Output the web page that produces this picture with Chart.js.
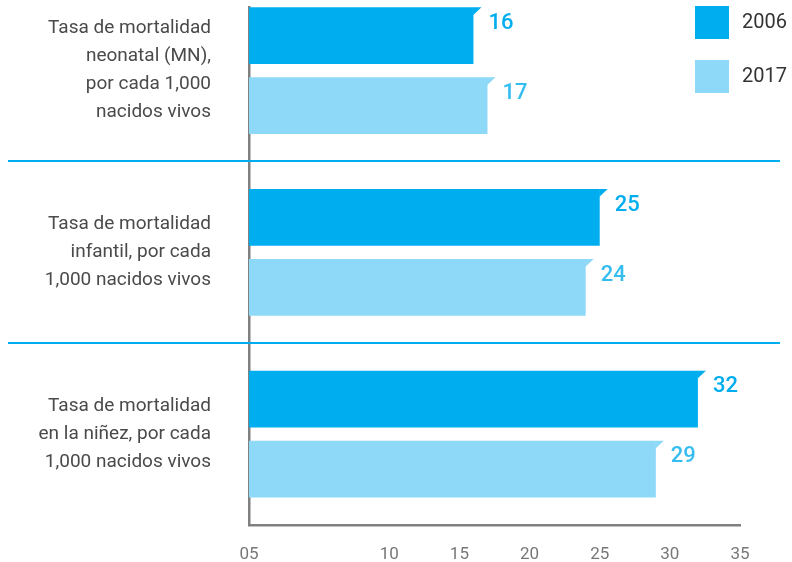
<!DOCTYPE html>
<html>
<head>
<meta charset="utf-8">
<script src="https://cdn.jsdelivr.net/npm/chart.js@4"></script>
<style>
  html, body { margin: 0; padding: 0; background: #fff; }
  #wrap { width: 792px; height: 562px; position: relative; }
</style>
</head>
<body>
<div id="wrap"><canvas id="chart"></canvas></div>
<script>
const categories = [
  ['Tasa de mortalidad', 'neonatal (MN),', 'por cada 1,000', 'nacidos vivos'],
  ['Tasa de mortalidad', 'infantil, por cada', '1,000 nacidos vivos'],
  ['Tasa de mortalidad', 'en la niñez, por cada', '1,000 nacidos vivos']
];
const seriesNames = ['2006', '2017'];
const values2006 = [16, 25, 32];
const values2017 = [17, 24, 29];
const xTickValues = [0, 10, 15, 20, 25, 30, 35];
const xTickLabels = ['05', '10', '15', '20', '25', '30', '35'];

const FONT = 'Roboto, "Noto Sans", sans-serif';
const dark = '#00AEEF';
const light = '#8ED8F8';
const labelColors = ['#00AEEF', '#35BDF0'];
const axisGray = '#808080';

// separators, bar flags, value labels and legend
const extras = {
  id: 'extras',
  afterDatasetsDraw(chart) {
    const ctx = chart.ctx;
    const y = chart.scales.y;
    ctx.save();
    // blue separators between the groups
    ctx.strokeStyle = dark;
    ctx.lineWidth = 2;
    for (let i = 0; i < categories.length - 1; i++) {
      const py = Math.round(y.getPixelForValue(i + 0.5));
      ctx.beginPath();
      ctx.moveTo(8, py);
      ctx.lineTo(780, py);
      ctx.stroke();
    }
    // little flag on each bar end + value
    chart.data.datasets.forEach((ds, di) => {
      const meta = chart.getDatasetMeta(di);
      meta.data.forEach((bar, i) => {
        const top = bar.y - bar.height / 2;
        ctx.fillStyle = ds.backgroundColor;
        ctx.beginPath();
        ctx.moveTo(bar.x - 0.5, top);
        ctx.lineTo(bar.x + 8, top);
        ctx.lineTo(bar.x - 0.5, top + 8);
        ctx.closePath();
        ctx.fill();
        ctx.fillStyle = labelColors[di];
        ctx.font = '500 22px ' + FONT;
        ctx.textAlign = 'left';
        ctx.textBaseline = 'middle';
        ctx.fillText(String(ds.data[i].x), bar.x + 15, top + 16);
      });
    });
    // legend
    const lx = chart.chartArea.right - 45;
    chart.data.datasets.forEach((ds, di) => {
      const ly = 6 + di * 54;
      ctx.fillStyle = ds.backgroundColor;
      ctx.fillRect(lx, ly, 34, 33);
      ctx.fillStyle = '#333';
      ctx.font = '20px ' + FONT;
      ctx.textAlign = 'left';
      ctx.textBaseline = 'middle';
      ctx.fillText(ds.label, lx + 47, ly + 17);
    });
    ctx.restore();
  }
};

new Chart(document.getElementById('chart'), {
  type: 'bar',
  data: {
    datasets: [
      {
        label: seriesNames[0],
        data: values2006.map((v, i) => ({ x: v, y: i })),
        backgroundColor: dark
      },
      {
        label: seriesNames[1],
        data: values2017.map((v, i) => ({ x: v, y: i })),
        backgroundColor: light
      }
    ]
  },
  options: {
    indexAxis: 'y',
    responsive: true,
    maintainAspectRatio: false,
    animation: false,
    categoryPercentage: 0.77,
    barPercentage: 0.81,
    layout: { padding: { top: 7, right: 52, left: 0, bottom: 0 } },
    scales: {
      y: {
        type: 'linear',
        reverse: true,
        offset: false,
        min: -0.35,
        max: 2.5,
        grid: { display: false, offset: false },
        border: { display: true, color: axisGray, width: 2.5 },
        afterBuildTicks: (scale) => {
          scale.ticks = categories.map((c, i) => ({ value: i }));
        },
        afterFit: (scale) => {
          scale.width = 249;
          scale.paddingTop = 0;
          scale.paddingBottom = 0;
        },
        ticks: {
          padding: 30,
          color: '#4a4a4a',
          font: { family: FONT, size: 19, lineHeight: 1.47 },
          callback: (v) => categories[v]
        }
      },
      x: {
        type: 'linear',
        min: 0,
        max: 35,
        grid: { display: false },
        border: { display: true, color: axisGray, width: 2.5 },
        afterBuildTicks: (scale) => {
          scale.ticks = xTickValues.map(v => ({ value: v }));
        },
        afterFit: (scale) => {
          scale.height = 37;
          scale.paddingLeft = 0;
          scale.paddingRight = 0;
        },
        ticks: {
          padding: 12,
          color: '#777',
          maxRotation: 0,
          font: { family: FONT, size: 17 },
          callback: (v) => xTickLabels[xTickValues.indexOf(v)]
        }
      }
    },
    plugins: {
      legend: { display: false },
      tooltip: { enabled: false }
    }
  },
  plugins: [extras]
});
</script>
</body>
</html>
